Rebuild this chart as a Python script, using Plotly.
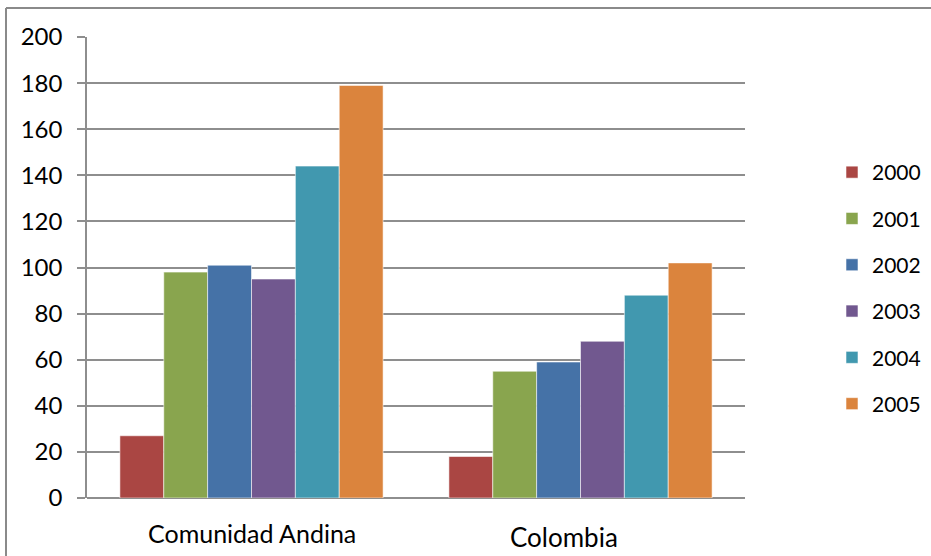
import plotly.graph_objects as go

# Categories and yearly series values
categories = ["Comunidad Andina", "Colombia"]
years = ["2000", "2001", "2002", "2003", "2004", "2005"]
values = {
    "2000": [27, 18],
    "2001": [98, 55],
    "2002": [101, 59],
    "2003": [95, 68],
    "2004": [144, 88],
    "2005": [179, 102],
}
y_ticks = [0, 20, 40, 60, 80, 100, 120, 140, 160, 180, 200]

colors = ["#AA4643", "#89A54E", "#4572A7", "#71588F", "#4198AF", "#DB843D"]

W, H = 931, 556
ML, MR, MT, MB = 87, 186, 37, 58
PW, PH = W - ML - MR, H - MT - MB

FONT = "Lato, 'Open Sans', sans-serif"
GRID = "#8e8e8e"

fig = go.Figure()
for i, yr in enumerate(years):
    fig.add_trace(go.Bar(
        name=yr,
        x=categories,
        y=values[yr],
        marker=dict(color=colors[i], line=dict(color="rgba(255,255,255,0.55)", width=1)),
        legendgroup=yr,
    ))

fig.update_layout(
    width=W, height=H,
    margin=dict(l=ML, r=MR, t=MT, b=MB, autoexpand=False),
    paper_bgcolor="white", plot_bgcolor="white",
    barmode="group", bargap=0.2, bargroupgap=0,
    font=dict(family=FONT, color="#000000"),
    showlegend=True,
    legend=dict(
        x=(832 - ML) / PW, xanchor="left",
        y=1 - (152 - MT) / PH, yanchor="top",
        font=dict(size=21, family=FONT, color="#000000"),
        tracegroupgap=16,
        bgcolor="rgba(0,0,0,0)",
    ),
    xaxis=dict(
        type="category",
        showticklabels=False,
        showgrid=False, ticks="", showline=False,
    ),
    yaxis=dict(
        range=[0, 200], tickvals=y_ticks,
        tickfont=dict(size=24, family=FONT, color="#000000"),
        showgrid=True, gridcolor=GRID, gridwidth=1.6,
        ticks="outside", ticklen=8, tickcolor=GRID, tickwidth=1.6,
        showline=True, linecolor=GRID, linewidth=1.6,
        zeroline=True, zerolinecolor=GRID, zerolinewidth=1.6,
        ticklabelstandoff=10,
    ),
)

# category labels under each group
cat_sizes = [25, 26]
cat_xshift = [0, -17]
cat_yshift = [-35, -39]
for c, s, dx, dy in zip(categories, cat_sizes, cat_xshift, cat_yshift):
    fig.add_annotation(x=c, y=0, xref="x", yref="y", text=c, showarrow=False,
                       xanchor="center", yanchor="middle", xshift=dx, yshift=dy,
                       font=dict(size=s, family=FONT, color="#000000"))

# y axis line continues a little below zero
fig.add_shape(type="line", xref="x domain", yref="y", x0=0, x1=0,
              ysizemode="pixel", yanchor=0, y0=0, y1=-9,
              line=dict(color=GRID, width=1.6))

# chart frame (left and top edges)
bx = (6 - ML) / PW
by = 1 + (MT - 8) / PH
fig.add_shape(type="line", xref="paper", yref="paper",
              x0=bx, x1=1 + MR / PW + 0.01, y0=by, y1=by,
              line=dict(color="#8a8a8a", width=2))
fig.add_shape(type="line", xref="paper", yref="paper",
              x0=bx, x1=bx, y0=by, y1=-MB / PH - 0.01,
              line=dict(color="#8a8a8a", width=2))

fig.write_html("out.html")
